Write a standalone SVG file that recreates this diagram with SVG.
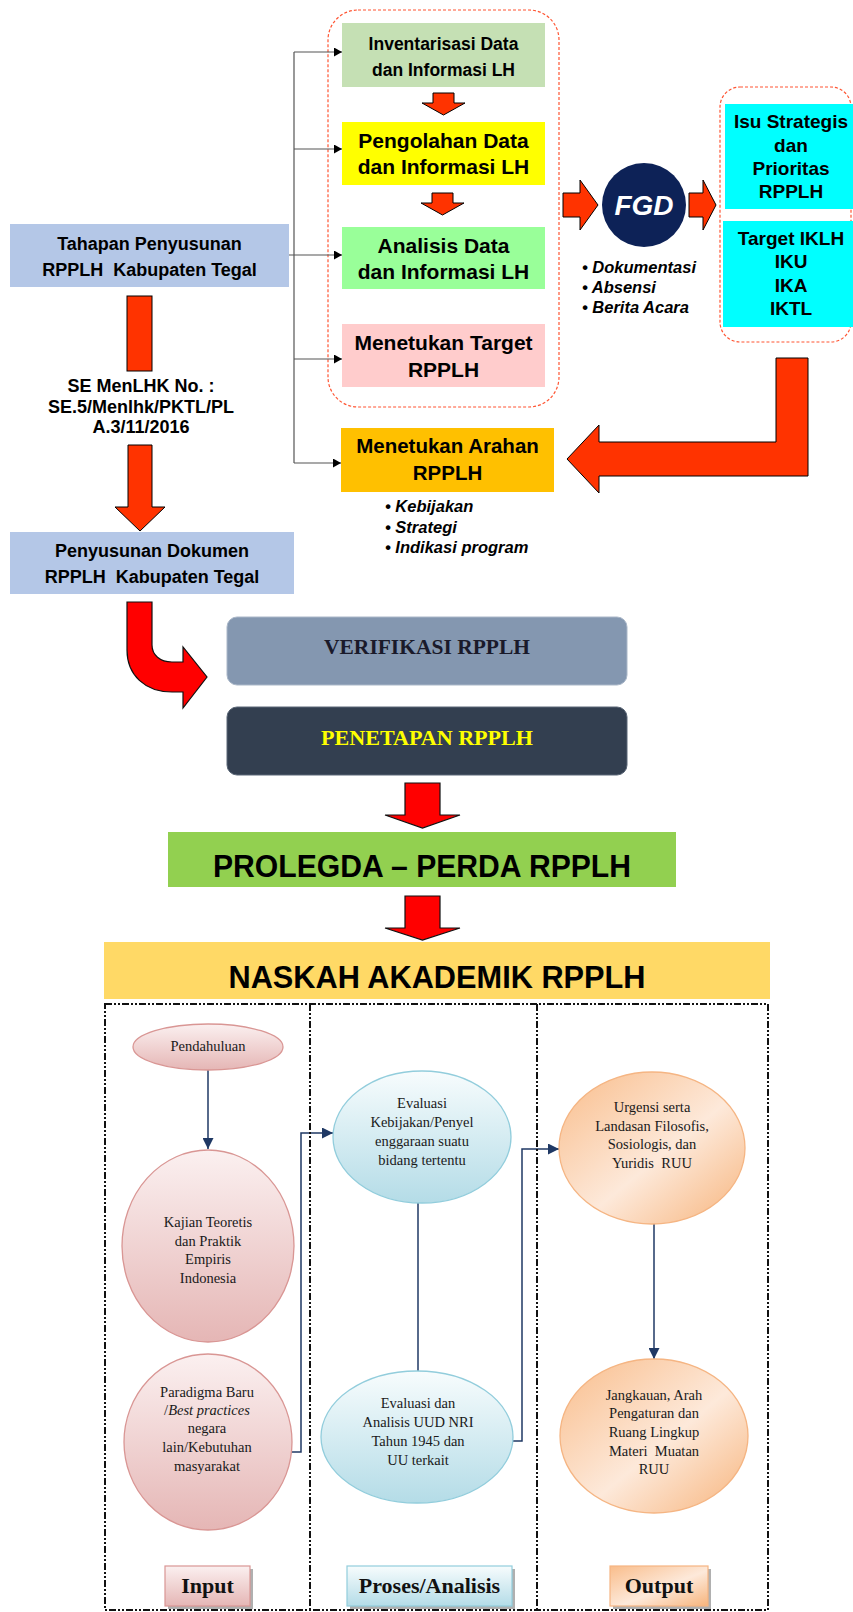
<svg xmlns="http://www.w3.org/2000/svg" width="853" height="1612" viewBox="0 0 853 1612">
<defs>
<style>
.sb{font-family:"Liberation Sans",Arial,sans-serif;font-weight:bold;fill:#000;text-anchor:middle}
.bi{font-family:"Liberation Sans",Arial,sans-serif;font-weight:bold;font-style:italic;fill:#000}
.tr{font-family:"Liberation Serif","Times New Roman",serif;fill:#1a1a1a;text-anchor:middle;font-size:14.5px}
.tb{font-family:"Liberation Serif","Times New Roman",serif;font-weight:bold;text-anchor:middle}
.box{stroke:none}
.dred{fill:none;stroke:#ff5533;stroke-width:1.2;stroke-dasharray:3 2}
.arr{fill:#ff3300;stroke:#000;stroke-width:1}
.arr2{fill:#ff0000;stroke:#111;stroke-width:1.2}
.conn{fill:none;stroke:#555;stroke-width:1.2}
.nav{fill:none;stroke:#1f3864;stroke-width:1.5}
.lane{fill:none;stroke:#111;stroke-width:2;stroke-dasharray:7 2 2 2 2 2}
</style>
<marker id="ah" markerWidth="9" markerHeight="9" refX="8" refY="4.5" orient="auto" markerUnits="userSpaceOnUse">
<path d="M0,0 L8,4.5 L0,9 Z" fill="#000"/>
</marker>
<marker id="an" markerWidth="12" markerHeight="11" refX="11" refY="5.5" orient="auto" markerUnits="userSpaceOnUse">
<path d="M0,0 L11,5.5 L0,11 Z" fill="#1f3864"/>
</marker>
<linearGradient id="gPink" x1="0" y1="0" x2="0" y2="1">
<stop offset="0" stop-color="#fbf0f0"/><stop offset="1" stop-color="#e5b6b5"/>
</linearGradient>
<linearGradient id="gBlue" x1="0" y1="0" x2="0" y2="1">
<stop offset="0" stop-color="#f7fcfd"/><stop offset="1" stop-color="#b4dce7"/>
</linearGradient>
<linearGradient id="gOrange" x1="0" y1="0" x2="1" y2="1">
<stop offset="0" stop-color="#f9bd8b"/><stop offset="0.55" stop-color="#fde9da"/><stop offset="1" stop-color="#f7b47c"/>
</linearGradient>
</defs>

<rect width="853" height="1612" fill="#fff"/>

<!-- dashed group frames -->
<rect class="dred" x="328" y="10" width="231" height="397" rx="30"/>
<rect class="dred" x="720" y="87" width="131" height="255" rx="20"/>

<g id="connectors">
<path class="conn" d="M289,255 H294 M294,52 V463"/>
<path class="conn" d="M294,52 H342" marker-end="url(#ah)"/>
<path class="conn" d="M294,149 H342" marker-end="url(#ah)"/>
<path class="conn" d="M294,255 H342" marker-end="url(#ah)"/>
<path class="conn" d="M294,359 H342" marker-end="url(#ah)"/>
<path class="conn" d="M294,463 H341" marker-end="url(#ah)"/>
<!-- block arrows -->
<polygon class="arr" points="433,93 454,93 454,103 465,103 443.5,115 422,103 433,103"/>
<polygon class="arr" points="432,193 453,193 453,203 464,203 442.5,215 421,203 432,203"/>
<polygon class="arr" points="563,193 580,193 580,180 598,205 580,230 580,217 563,217"/>
<polygon class="arr" points="689,193 703,193 703,180 716,205 703,230 703,217 689,217"/>
<rect class="arr" x="127" y="296" width="25" height="75"/>
<polygon class="arr" points="128,445 152,445 152,507 165,507 140,531 115,507 128,507"/>
<polygon class="arr" points="776,358 808,358 808,476 599,476 599,493 567,459 599,425 599,442 776,442"/>
<path class="arr2" d="M127,602 H152 V645 C152,655 160,662 172,662 H183 V647 L207,677 L183,708 V692 H172 C145,692 127,675 127,650 Z"/>
<polygon class="arr2" points="405,783 440,783 440,815 460,815 422.5,828 385,815 405,815"/>
<polygon class="arr2" points="405,896 440,896 440,928 460,928 422.5,940 385,928 405,928"/>
<!-- lower flow connectors -->
<path class="nav" d="M208,1070 V1149" marker-end="url(#an)"/>
<path class="nav" d="M291,1452 H301 V1133 H333" marker-end="url(#an)"/>
<path class="nav" d="M418,1203 V1371"/>
<path class="nav" d="M513,1441 H522 V1149 H559" marker-end="url(#an)"/>
<path class="nav" d="M654,1224 V1359" marker-end="url(#an)"/>
</g>

<g id="tahapan">
<rect class="box" x="10" y="224" width="279" height="63" fill="#b4c7e7"/>
<text class="sb" x="149.5" y="250" font-size="18">Tahapan Penyusunan</text>
<text class="sb" x="149.5" y="276" font-size="18" xml:space="preserve">RPPLH  Kabupaten Tegal</text>
</g>

<g id="se-label">
<text class="sb" x="141" y="392" font-size="18">SE MenLHK No. :</text>
<text class="sb" x="141" y="413" font-size="18">SE.5/Menlhk/PKTL/PL</text>
<text class="sb" x="141" y="433" font-size="18">A.3/11/2016</text>
</g>

<g id="penyusunan">
<rect class="box" x="10" y="532" width="284" height="62" fill="#b4c7e7"/>
<text class="sb" x="152" y="557" font-size="18">Penyusunan Dokumen</text>
<text class="sb" x="152" y="583" font-size="18" xml:space="preserve">RPPLH  Kabupaten Tegal</text>
</g>

<g id="inventarisasi">
<rect class="box" x="342" y="23" width="203" height="64" fill="#c5e0b4"/>
<text class="sb" x="443.5" y="50" font-size="17.5">Inventarisasi Data</text>
<text class="sb" x="443.5" y="76" font-size="17.5">dan Informasi LH</text>
</g>

<g id="pengolahan">
<rect class="box" x="342" y="122" width="203" height="63" fill="#ffff00"/>
<text class="sb" x="443.5" y="148" font-size="21">Pengolahan Data</text>
<text class="sb" x="443.5" y="174" font-size="21">dan Informasi LH</text>
</g>

<g id="analisis">
<rect class="box" x="342" y="227" width="203" height="62" fill="#99ff99"/>
<text class="sb" x="443.5" y="253" font-size="21">Analisis Data</text>
<text class="sb" x="443.5" y="279" font-size="21">dan Informasi LH</text>
</g>

<g id="target">
<rect class="box" x="342" y="324" width="203" height="63" fill="#ffcccc"/>
<text class="sb" x="443.5" y="350" font-size="21">Menetukan Target</text>
<text class="sb" x="443.5" y="377" font-size="21">RPPLH</text>
</g>

<g id="fgd">
<circle cx="644" cy="205" r="42" fill="#0d2257"/>
<text class="bi" x="644" y="215" font-size="28" style="fill:#fff" text-anchor="middle">FGD</text>
<text class="bi" x="582" y="273" font-size="16.5">• Dokumentasi</text>
<text class="bi" x="582" y="293" font-size="16.5">• Absensi</text>
<text class="bi" x="582" y="313" font-size="16.5">• Berita Acara</text>
</g>

<g id="isu">
<rect class="box" x="725" y="104" width="128" height="105" fill="#00ffff"/>
<text class="sb" x="791" y="128" font-size="19">Isu Strategis</text>
<text class="sb" x="791" y="152" font-size="19">dan</text>
<text class="sb" x="791" y="175" font-size="19">Prioritas</text>
<text class="sb" x="791" y="198" font-size="19">RPPLH</text>
</g>

<g id="target-iklh">
<rect class="box" x="723" y="221" width="130" height="106" fill="#00ffff"/>
<text class="sb" x="791" y="245" font-size="19">Target IKLH</text>
<text class="sb" x="791" y="268" font-size="19">IKU</text>
<text class="sb" x="791" y="292" font-size="19">IKA</text>
<text class="sb" x="791" y="315" font-size="19">IKTL</text>
</g>

<g id="arahan">
<rect class="box" x="341" y="428" width="213" height="64" fill="#ffc000"/>
<text class="sb" x="447.5" y="453" font-size="20.5">Menetukan Arahan</text>
<text class="sb" x="447.5" y="480" font-size="20.5">RPPLH</text>
<text class="bi" x="385" y="512" font-size="16.5">• Kebijakan</text>
<text class="bi" x="385" y="533" font-size="16.5">• Strategi</text>
<text class="bi" x="385" y="553" font-size="16.5">• Indikasi program</text>
</g>

<g id="verifikasi">
<rect x="227" y="617" width="400" height="68" rx="10" fill="#8497b0" stroke="#aab7c8" stroke-width="1"/>
<text class="tb" x="427" y="654" font-size="21.5" fill="#1a1a2a" textLength="206" lengthAdjust="spacingAndGlyphs">VERIFIKASI RPPLH</text>
</g>

<g id="penetapan">
<rect x="227" y="707" width="400" height="68" rx="10" fill="#333f50" stroke="#5a6676" stroke-width="1"/>
<text class="tb" x="427" y="745" font-size="21.5" fill="#ffff00" textLength="212" lengthAdjust="spacingAndGlyphs">PENETAPAN RPPLH</text>
</g>

<g id="prolegda">
<rect class="box" x="168" y="832" width="508" height="55" fill="#92d050"/>
<text class="sb" x="422" y="877" font-size="32" textLength="418" lengthAdjust="spacingAndGlyphs">PROLEGDA – PERDA RPPLH</text>
</g>

<g id="naskah">
<rect class="box" x="104" y="942" width="666" height="57" fill="#ffd966"/>
<text class="sb" x="437" y="988" font-size="32" textLength="417" lengthAdjust="spacingAndGlyphs">NASKAH AKADEMIK RPPLH</text>
</g>

<g id="lanes">
<rect class="lane" x="105" y="1004" width="663" height="606"/>
<path class="lane" d="M310,1004 V1610 M537,1004 V1610"/>
</g>

<g id="pendahuluan">
<ellipse cx="208" cy="1047" rx="75" ry="23" fill="url(#gPink)" stroke="#d99694" stroke-width="1.3"/>
<text class="tr" x="208" y="1051" font-size="15">Pendahuluan</text>
</g>

<g id="kajian">
<ellipse cx="208" cy="1246" rx="86" ry="96" fill="url(#gPink)" stroke="#d99694" stroke-width="1.3"/>
<text class="tr" x="208" y="1227">Kajian Teoretis</text>
<text class="tr" x="208" y="1246">dan Praktik</text>
<text class="tr" x="208" y="1264">Empiris</text>
<text class="tr" x="208" y="1283">Indonesia</text>
</g>

<g id="paradigma">
<ellipse cx="208" cy="1442" rx="84" ry="88" fill="url(#gPink)" stroke="#d99694" stroke-width="1.3"/>
<text class="tr" x="207" y="1397">Paradigma Baru</text>
<text class="tr" x="207" y="1415">/<tspan font-style="italic">Best practices</tspan></text>
<text class="tr" x="207" y="1433">negara</text>
<text class="tr" x="207" y="1452">lain/Kebutuhan</text>
<text class="tr" x="207" y="1471">masyarakat</text>
</g>

<g id="evaluasi-kebijakan">
<ellipse cx="422" cy="1137" rx="89" ry="66" fill="url(#gBlue)" stroke="#92cddc" stroke-width="1.3"/>
<text class="tr" x="422" y="1108">Evaluasi</text>
<text class="tr" x="422" y="1127">Kebijakan/Penyel</text>
<text class="tr" x="422" y="1146">enggaraan suatu</text>
<text class="tr" x="422" y="1165">bidang tertentu</text>
</g>

<g id="evaluasi-uud">
<ellipse cx="417" cy="1437" rx="96" ry="66" fill="url(#gBlue)" stroke="#92cddc" stroke-width="1.3"/>
<text class="tr" x="418" y="1408">Evaluasi dan</text>
<text class="tr" x="418" y="1427">Analisis UUD NRI</text>
<text class="tr" x="418" y="1446">Tahun 1945 dan</text>
<text class="tr" x="418" y="1465">UU terkait</text>
</g>

<g id="urgensi">
<ellipse cx="652" cy="1148" rx="93" ry="76" fill="url(#gOrange)" stroke="#f5b583" stroke-width="1.3"/>
<text class="tr" x="652" y="1112">Urgensi serta</text>
<text class="tr" x="652" y="1131">Landasan Filosofis,</text>
<text class="tr" x="652" y="1149">Sosiologis, dan</text>
<text class="tr" x="652" y="1168" xml:space="preserve">Yuridis  RUU</text>
</g>

<g id="jangkauan">
<ellipse cx="654" cy="1436" rx="94" ry="77" fill="url(#gOrange)" stroke="#f5b583" stroke-width="1.3"/>
<text class="tr" x="654" y="1400">Jangkauan, Arah</text>
<text class="tr" x="654" y="1418">Pengaturan dan</text>
<text class="tr" x="654" y="1437">Ruang Lingkup</text>
<text class="tr" x="654" y="1456" xml:space="preserve">Materi  Muatan</text>
<text class="tr" x="654" y="1474">RUU</text>
</g>

<g id="label-input">
<rect x="168" y="1569" width="85" height="40" fill="#b0b0b0"/>
<rect x="165" y="1566" width="85" height="40" fill="url(#gPink)" stroke="#d99694" stroke-width="1.2"/>
<text class="tb" x="207.5" y="1593" font-size="22" fill="#111">Input</text>
</g>

<g id="label-proses">
<rect x="350" y="1569" width="165" height="40" fill="#b0b0b0"/>
<rect x="347" y="1566" width="165" height="40" fill="url(#gBlue)" stroke="#92cddc" stroke-width="1.2"/>
<text class="tb" x="429.5" y="1593" font-size="22" fill="#111">Proses/Analisis</text>
</g>

<g id="label-output">
<rect x="613" y="1569" width="98" height="40" fill="#b0b0b0"/>
<rect x="610" y="1566" width="98" height="40" fill="url(#gOrange)" stroke="#f5b583" stroke-width="1.2"/>
<text class="tb" x="659" y="1593" font-size="22" fill="#111">Output</text>
</g>
</svg>
